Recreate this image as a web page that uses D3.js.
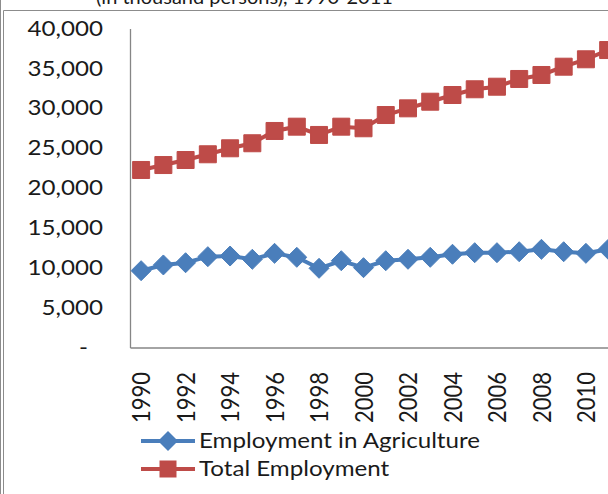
<!DOCTYPE html>
<html>
<head>
<meta charset="utf-8">
<script src="https://cdn.jsdelivr.net/npm/d3@7"></script>
<style>
  body { margin: 0; background: #fff; }
  svg text { font-family: Lato, "Open Sans", sans-serif; fill: #1a1a1a; }
</style>
</head>
<body>
<div id="chart"></div>
<script>
// data (thousand persons)
var years = ["1990","1991","1992","1993","1994","1995","1996","1997","1998","1999","2000",
             "2001","2002","2003","2004","2005","2006","2007","2008","2009","2010","2011"];
var agriculture = [9630,10350,10630,11390,11470,11060,11810,11310,9930,10880,10010,
                   10880,11060,11310,11690,11890,11890,12010,12310,12010,11810,12310];
var totalEmployment = [22260,22880,23510,24230,24980,25610,27150,27690,26650,27690,27490,
                       29150,29990,30820,31660,32380,32700,33670,34170,35210,36140,37300];
var yTicks = [0,5000,10000,15000,20000,25000,30000,35000,40000];
var xTickYears = ["1990","1992","1994","1996","1998","2000","2002","2004","2006","2008","2010"];
var titleText = "(in thousand persons), 1990-2011";

var width = 608, height = 494;
var fontSize = 21;
var stretch = 1.15; //the original picture is a bit wider than tall

var svg = d3.select("#chart").append("svg")
	.attr("width", width)
	.attr("height", height);

//chart frame (double line on the left, single on top)
svg.append("line").attr("x1",0.5).attr("x2",0.5).attr("y1",0).attr("y2",height)
	.attr("stroke","#8c8c8c");
svg.append("path")
	.attr("d","M3.5,"+height+"V10.5H"+width)
	.attr("fill","none").attr("stroke","#8c8c8c");

//title, cut off by the top edge as in the original
svg.append("text")
	.attr("x", 96)
	.attr("y", 4)
	.style("font-size", "20px")
	.text(titleText);

//scales
var x = d3.scaleBand().domain(years).range([130, 130 + 22*22.24]);
var y = d3.scaleLinear().domain([0, 40000]).range([347.5, 28.5]);

//y axis
var yAxis = svg.append("g")
	.attr("transform","translate(130,0)")
	.call(d3.axisLeft(y)
		.tickValues(yTicks)
		.tickSize(0)
		.tickSizeOuter(0)
		.tickPadding(27)
		.tickFormat(function(d){ return d === 0 ? "-" : d3.format(",")(d); }));
yAxis.select(".domain").attr("stroke","#868686").attr("stroke-width",1.3);
yAxis.selectAll("text")
	.style("font-size", fontSize+"px")
	.attr("fill","#1a1a1a")
	.attr("x", 0)
	.attr("transform", function(d){
		return "translate("+(d === 0 ? -42 : -27)+",0) scale("+stretch+",1)";
	});

//x axis with rotated year labels
var xAxis = svg.append("g")
	.attr("transform","translate(0,347.5)")
	.call(d3.axisBottom(x)
		.tickValues(xTickYears)
		.tickSize(0)
		.tickSizeOuter(0));
xAxis.select(".domain").attr("stroke","#868686").attr("stroke-width",1.3);
xAxis.selectAll("text")
	.style("font-size", "22px")
	.attr("fill","#1a1a1a")
	.attr("text-anchor","end")
	.attr("transform","scale("+stretch+",1) rotate(-90)")
	.attr("x", -24.5)
	.attr("y", 0)
	.attr("dy", "0.36em");

var series = [
	{name: "Employment in Agriculture", values: agriculture, color: "#4a7ebb", marker: "diamond"},
	{name: "Total Employment", values: totalEmployment, color: "#be4b48", marker: "square"}
];

var line = d3.line()
	.x(function(d,i){ return x(years[i]) + x.bandwidth()/2; })
	.y(function(d){ return y(d); });

function markerPath(type) {
	if (type === "diamond") return "M0,-10L10,0L0,10L-10,0Z";
	return "M-8.5,-8.5H8.5V8.5H-8.5Z";
}

var plot = svg.append("g");
series.forEach(function(s) {
	plot.append("path")
		.attr("d", line(s.values))
		.attr("fill","none")
		.attr("stroke", s.color)
		.attr("stroke-width", 4);
	plot.selectAll(".m-"+s.marker)
		.data(s.values)
	.enter().append("path")
		.attr("class","m-"+s.marker)
		.attr("transform", function(d,i){
			return "translate("+(x(years[i]) + x.bandwidth()/2)+","+y(d)+")";
		})
		.attr("d", markerPath(s.marker))
		.attr("fill", s.color)
		.attr("stroke", s.color)
		.attr("stroke-width", 1);
});

//legend
var legend = svg.append("g").selectAll("g")
	.data(series)
.enter().append("g")
	.attr("transform", function(d,i){ return "translate(0,"+(441 + i*28)+")"; });
legend.append("line")
	.attr("x1",141).attr("x2",195)
	.attr("stroke", function(d){ return d.color; })
	.attr("stroke-width", 4);
legend.append("path")
	.attr("transform","translate(168,0)")
	.attr("d", function(d){ return markerPath(d.marker); })
	.attr("fill", function(d){ return d.color; });
legend.append("text")
	.attr("transform","translate(199,0) scale("+stretch+",1)")
	.attr("dy","0.35em")
	.style("font-size", fontSize+"px")
	.text(function(d){ return d.name; });
</script>
</body>
</html>
